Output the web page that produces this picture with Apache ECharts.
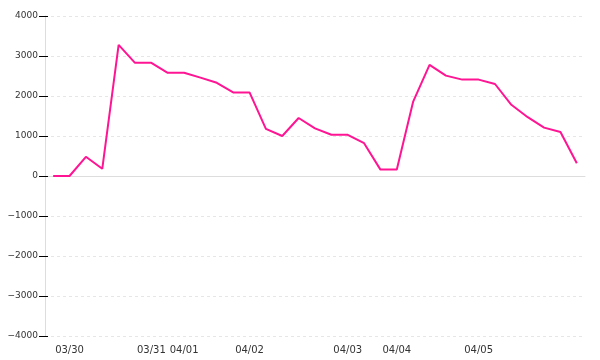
<!DOCTYPE html>
<html>
<head>
<meta charset="utf-8">
<script src="https://cdn.jsdelivr.net/npm/echarts@6/dist/echarts.min.js"></script>
<style>html,body{margin:0;padding:0;background:#fff}#c{width:600px;height:360px}</style>
</head>
<body>
<div id="c"></div>
<script>
var dates = ["03/29","03/30","03/30","03/30","03/30","03/30","03/31","03/31","04/01","04/01","04/01","04/01","04/02","04/02","04/02","04/02","04/02","04/02","04/03","04/03","04/03","04/04","04/04","04/04","04/04","04/04","04/05","04/05","04/05","04/05","04/05","04/05","04/05"];
var values = [0, 0, 480, 180, 3280, 2830, 2830, 2580, 2580, 2460, 2330, 2090, 2090, 1180, 1000, 1450, 1190, 1030, 1030, 820, 160, 160, 1860, 2780, 2510, 2410, 2410, 2300, 1780, 1470, 1210, 1100, 320];
var yMin = -4000, yMax = 4000, yStep = 1000;

var chart = echarts.init(document.getElementById('c'), null, {renderer: 'canvas'});
var font = 'DejaVu Sans';
function fmtY(v) { return v < 0 ? '\u2212' + Math.abs(v) : String(v); }
chart.setOption({
  animation: false,
  grid: {left: 45, right: 15, top: 16, bottom: 24, containLabel: false},
  xAxis: [{
    type: 'category',
    data: dates,
    boundaryGap: true,
    axisLine: {show: false, onZero: false},
    axisTick: {show: false},
    splitLine: {show: false},
    axisLabel: {
      color: '#333', fontFamily: font, fontSize: 10, margin: 9,
      interval: function (i) { return i > 0 && dates[i] !== dates[i - 1]; }
    }
  }, {
    type: 'category',
    data: dates,
    boundaryGap: true,
    position: 'bottom',
    axisLine: {show: true, onZero: true, lineStyle: {color: '#ddd', width: 1}},
    axisTick: {show: false},
    axisLabel: {show: false},
    splitLine: {show: false}
  }],
  yAxis: [{
    type: 'value', min: yMin, max: yMax, interval: yStep,
    axisLine: {show: true, lineStyle: {color: '#ddd', width: 1}},
    axisTick: {show: true, length: 6, lineStyle: {color: '#000', width: 1}},
    axisLabel: {color: '#333', fontFamily: font, fontSize: 9, margin: 7, formatter: fmtY},
    splitLine: {show: true, lineStyle: {color: '#e6e6e6', type: [3, 3], width: 1}}
  }, {
    type: 'value', min: yMin, max: yMax, interval: yStep, position: 'left',
    axisLine: {show: false}, axisLabel: {show: false}, splitLine: {show: false},
    axisTick: {show: true, inside: true, length: 3, lineStyle: {color: '#000', width: 1}}
  }],
  series: [{
    type: 'line',
    data: values,
    showSymbol: false,
    symbol: 'none',
    lineStyle: {color: '#ff1493', width: 2},
    itemStyle: {color: '#ff1493'}
  }]
});
</script>
</body>
</html>
